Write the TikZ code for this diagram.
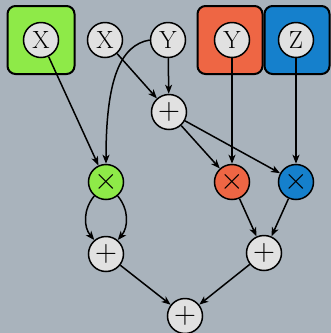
\documentclass[tikz,border=0pt]{standalone}
\usepackage{graphicx}
\usetikzlibrary{arrows.meta}
\definecolor{bgcol}{HTML}{A9B3BC}
\definecolor{nodecol}{HTML}{E1E1E1}
\definecolor{grncol}{HTML}{8EEA48}
\definecolor{redcol}{HTML}{EE6644}
\definecolor{blucol}{HTML}{1580CC}
\newcommand{\opsym}[1]{\scalebox{1.22}{\Huge$#1$}}
\tikzset{
  var/.style={circle, draw=black, line width=1.5pt, fill=nodecol, minimum size=35pt, inner sep=0pt,
    font=\Huge},
  op/.style={circle, draw=black, line width=1.5pt, fill=nodecol, minimum size=35pt, inner sep=0pt},
  grp/.style={draw=black, line width=2pt, rounded corners=8pt, minimum width=67pt, minimum height=68pt},
  edge/.style={line width=1.5pt, -{Stealth[length=9pt,width=7pt,inset=2.5pt]}}
}
\begin{document}
\begin{tikzpicture}[x=1pt,y=-1pt]
\useasboundingbox[fill=bgcol] (0,0) rectangle (331,333);
% parameter groups
\node[grp, fill=grncol] (gA) at (41,40) {};
\node[grp, fill=redcol, minimum width=65pt] (gB) at (230,40) {};
\node[grp, fill=blucol, minimum width=65pt] (gC) at (297,40) {};
% input variables
\node[var] (xa) at (41,40) {X};
\node[var] (xb) at (105,40) {X};
\node[var] (yb) at (168,40) {Y};
\node[var] (yc) at (232,40) {Y};
\node[var] (zc) at (296,40) {Z};
% operations
\node[op] (s1) at (169,112) {\opsym{+}};
\node[op, fill=grncol] (m1) at (106,182) {\opsym{\times}};
\node[op, fill=redcol] (m2) at (232,182) {\opsym{\times}};
\node[op, fill=blucol] (m3) at (296,182) {\opsym{\times}};
\node[op] (s2) at (106,254) {\opsym{+}};
\node[op] (s3) at (264,253) {\opsym{+}};
\node[op] (s4) at (185,316) {\opsym{+}};
% connectors
\draw[edge] (xa) -- (m1);
\draw[edge] (yb.west) .. controls (120,45) and (106,80) .. (m1.north);
\draw[edge] (xb) -- (s1);
\draw[edge] (yb) -- (s1);
\draw[edge] (s1) -- (m2);
\draw[edge] (s1) -- (m3);
\draw[edge] (yc) -- (m2);
\draw[edge] (zc) -- (m3);
\draw[edge] (m1) to[bend right=40] (s2);
\draw[edge] (m1) to[bend left=40] (s2);
\draw[edge] (m2) -- (s3);
\draw[edge] (m3) -- (s3);
\draw[edge] (s2) -- (s4);
\draw[edge] (s3) -- (s4);
\end{tikzpicture}
\end{document}
